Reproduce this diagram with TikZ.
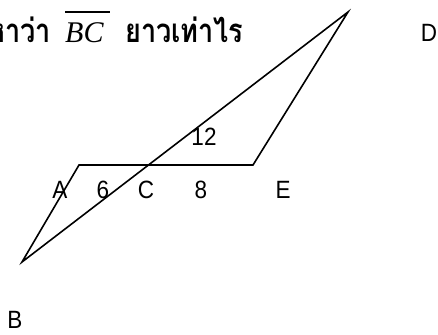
\documentclass[tikz,border=0pt]{standalone}
\usepackage{fontspec}
\setmainfont{Liberation Serif}
\newfontfamily\thaifont[Script=Thai,FakeStretch=0.82]{Loma}
\newfontfamily\lblfont[FakeStretch=0.9]{Liberation Sans}
\newfontfamily\bcfont{Liberation Serif}
\begin{document}
\begin{tikzpicture}[x=1pt,y=-1pt,
  lbl/.style={font=\lblfont\fontsize{25}{27}\selectfont, inner sep=0pt},
  ttl/.style={font=\thaifont\bfseries\fontsize{33}{35}\selectfont, inner sep=0pt},
  edge/.style={line width=1.6pt, line join=miter}]
\useasboundingbox (0,0) rectangle (438,334);
\clip (0,0) rectangle (438,334);
% title
\node[ttl, anchor=base east] (t1) at (51,43) {หาว่า};
\node[anchor=base west, inner sep=0pt, font=\bcfont\itshape\fontsize{30}{32}\selectfont] (bc) at (65,43) {BC};
\coordinate (o1) at (65,12);
\coordinate (o2) at (110,12);
\draw[line width=1.1pt] (o1) -- (o2);
\node[ttl, anchor=base west] (t2) at (125,43) {ยาวเท่าไร};
% vertices
\coordinate (A) at (79,165);
\coordinate (E) at (253,165);
\coordinate (D) at (348,12);
\coordinate (B) at (22,262);
\draw[edge] (A) -- (E) -- (D) -- (B) -- cycle;
% labels
\node[lbl] (lA) at (60,190) {A};
\node[lbl] (l6) at (103,190) {6};
\node[lbl] (lC) at (146,190) {C};
\node[lbl] (l8) at (201,190) {8};
\node[lbl] (lE) at (283,190) {E};
\node[lbl] (l12) at (204,137) {12};
\node[lbl] (lD) at (429,33) {D};
\node[lbl] (lB) at (15,320) {B};
\end{tikzpicture}
\end{document}
